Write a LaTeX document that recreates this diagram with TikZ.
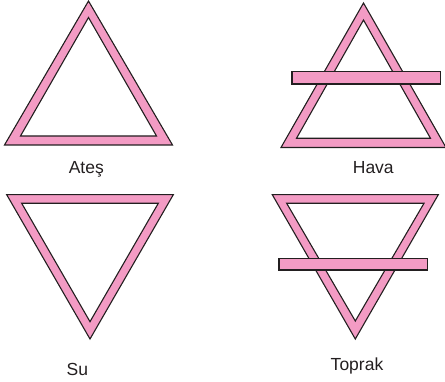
\documentclass[tikz,border=0pt]{standalone}
\usepackage{fontspec}
\setmainfont{Liberation Sans}
\definecolor{sympink}{HTML}{F39BC4}
\definecolor{symline}{HTML}{231F20}
\tikzset{
  ring/.style={fill=sympink, draw=symline, line width=1.1pt, even odd rule, line join=miter},
  bar/.style={fill=sympink, draw=symline, line width=1.1pt},
  lbl/.style={anchor=base, inner sep=0pt, text=symline, font=\fontsize{17.5}{20}\selectfont}
}
\begin{document}
\begin{tikzpicture}[x=1pt,y=-1pt]
\useasboundingbox (0,0) rectangle (445,382);
% Ates
\draw[ring] (88.5,1) -- (4.5,145) -- (172.5,145) -- cycle
            (88.5,17.5) -- (20.5,136) -- (156.5,136) -- cycle;
\node[lbl] (ates) at (86.3,173.3) {Ateş};
% Hava
\draw[ring] (363.5,3) -- (281,147.5) -- (446,147.5) -- cycle
            (363.5,20) -- (296.5,138.3) -- (430.5,138.3) -- cycle;
\draw[bar] (292,71.7) rectangle (440.7,84);
\node[lbl] (hava) at (373.3,173.3) {Hava};
% Su
\draw[ring] (6.7,194.7) -- (173.3,194.7) -- (90,339) -- cycle
            (21.7,203.3) -- (158.3,203.3) -- (90,321.7) -- cycle;
\node[lbl] (su) at (77.3,376) {Su};
% Toprak
\draw[ring] (272.3,194.7) -- (438.3,194.7) -- (355.3,339) -- cycle
            (286.7,203.3) -- (424,203.3) -- (355.3,321) -- cycle;
\draw[bar] (279,258.3) rectangle (427.3,270);
\node[lbl] (toprak) at (357,371) {Toprak};
\end{tikzpicture}
\end{document}
